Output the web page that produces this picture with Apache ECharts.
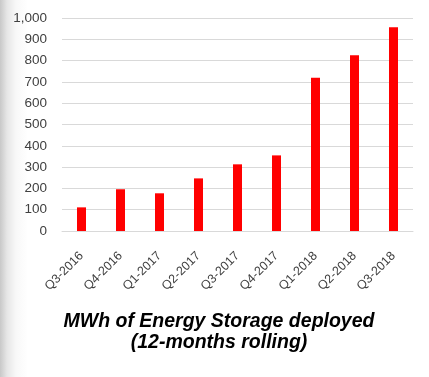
<!DOCTYPE html>
<html lang="en">
<head>
  <meta charset="UTF-8">
  <title>Energy Storage</title>
  <style>
    html, body { margin: 0; padding: 0; }
    body {
      background: linear-gradient(to right, #c8c8c8 0px, #e6e6e6 7px, #f8f8f8 16px, #ffffff 28px);
    }
    #main { width: 429px; height: 377px; }
  </style>
</head>
<body>
  <div id="main"></div>
</body>
<script src="https://cdn.jsdelivr.net/npm/echarts@6/dist/echarts.min.js"></script>
<script>
  const quarters = ['Q3-2016', 'Q4-2016', 'Q1-2017', 'Q2-2017', 'Q3-2017', 'Q4-2017', 'Q1-2018', 'Q2-2018', 'Q3-2018'];
  const mwh = [111, 196, 177, 247, 313, 355, 720, 825, 956];

  let myChart = echarts.init(document.getElementById('main'));

  myChart.setOption({
    title: {
      text: 'MWh of Energy Storage deployed\n(12-months rolling)',
      left: 214,
      textAlign: 'center',
      top: 306,
      textStyle: {
        fontFamily: 'Liberation Sans',
        fontStyle: 'italic',
        fontWeight: 'bold',
        fontSize: 19.5,
        lineHeight: 21,
        color: '#000'
      }
    },
    grid: { left: 62, right: 16, top: 18, bottom: 146 },
    xAxis: {
      type: 'category',
      data: quarters,
      axisLine: { lineStyle: { color: '#d9d9d9' } },
      axisTick: { show: false },
      axisLabel: {
        rotate: 45,
        interval: 0,
        margin: 23,
        fontFamily: 'Liberation Sans',
        fontSize: 12.5,
        color: '#404040'
      }
    },
    yAxis: {
      type: 'value',
      min: 0,
      max: 1000,
      interval: 100,
      splitLine: { lineStyle: { color: '#d9d9d9' } },
      axisLabel: {
        margin: 15,
        fontFamily: 'Liberation Sans',
        fontSize: 13.5,
        color: '#404040',
        formatter: v => v.toLocaleString('en-US')
      }
    },
    series: [{
      type: 'bar',
      data: mwh,
      barWidth: 9,
      itemStyle: { color: '#ff0000' }
    }]
  });
</script>
</html>
